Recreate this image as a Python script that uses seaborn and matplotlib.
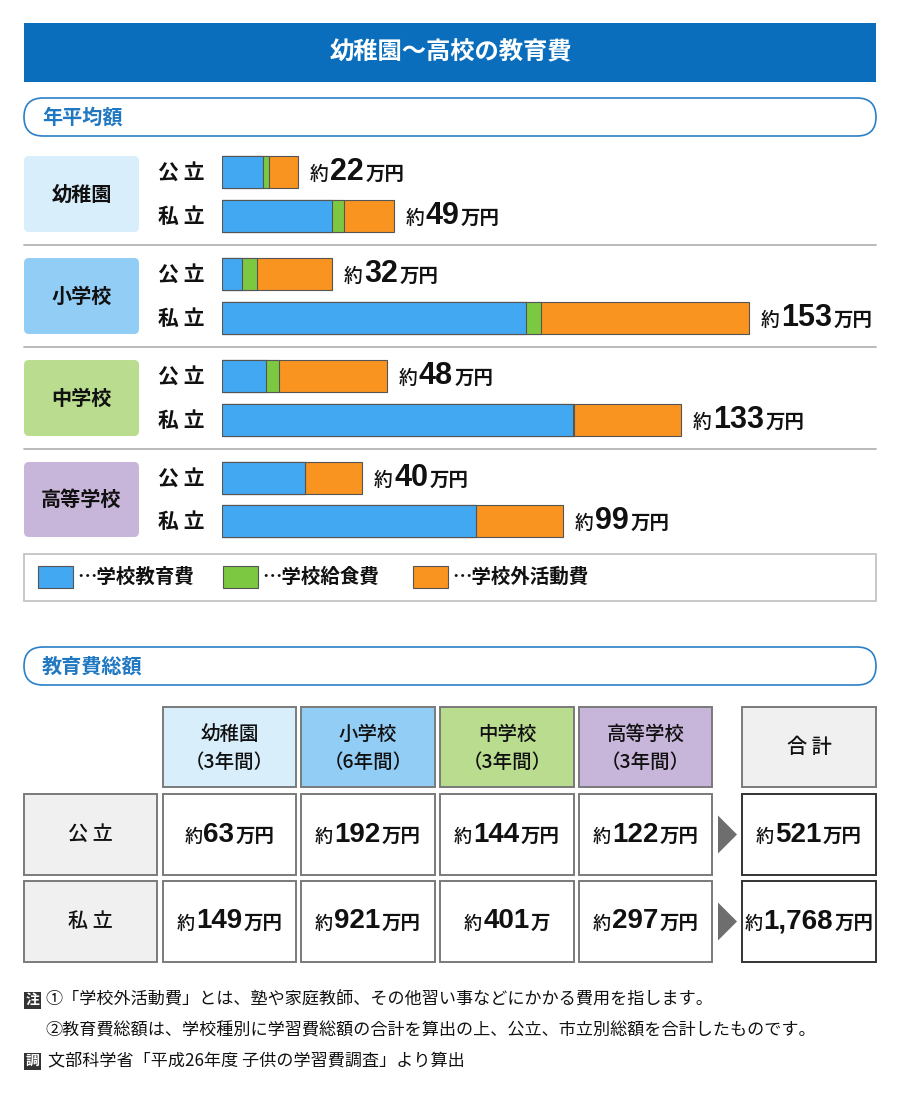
import pandas as pd
import seaborn as sns
import matplotlib.pyplot as plt
from matplotlib.patches import Rectangle, FancyBboxPatch, Polygon
from matplotlib.offsetbox import TextArea, HPacker, AnnotationBbox

W, H = 900, 1106

# ---- data ----
schools = ["幼稚園", "小学校", "中学校", "高等学校"]
types = ["公立", "私立"]
type_labels = ["公 立", "私 立"]
# 年平均額 (万円), rows: 幼公, 幼私, 小公, 小私, 中公, 中私, 高公, 高私
tuition = [11.9, 32.0, 5.9, 88.6, 12.9, 102.2, 24.3, 74.0]
lunch = [1.9, 3.7, 4.3, 4.5, 3.8, 0.3, 0.0, 0.0]
outside = [8.4, 14.3, 21.9, 60.6, 31.4, 31.3, 16.6, 25.5]
annual_labels = ["22", "49", "32", "153", "48", "133", "40", "99"]
legend_labels = ["…学校教育費", "…学校給食費", "…学校外活動費"]

# 教育費総額
table_headers = ["幼稚園\n（3年間）", "小学校\n（6年間）", "中学校\n（3年間）", "高等学校\n（3年間）"]
public_totals = ["63", "192", "144", "122", "521"]
private_totals = ["149", "921", "401", "297", "1,768"]
public_units = ["万円", "万円", "万円", "万円", "万円"]
private_units = ["万円", "万円", "万", "万円", "万円"]

notes = ["①「学校外活動費」とは、塾や家庭教師、その他習い事などにかかる費用を指します。",
         "②教育費総額は、学校種別に学習費総額の合計を算出の上、公立、市立別総額を合計したものです。"]
source = "文部科学省「平成26年度 子供の学習費調査」より算出"

# ---- style ----
sns.set_style("white")
plt.rcParams['font.family'] = ['Noto Sans CJK JP', 'DejaVu Sans']
NUM_FONT = ['Liberation Sans', 'DejaVu Sans']

BLUE, GREEN, ORANGE = "#42a8f2", "#7cc840", "#fa9420"
EDGE = "#555555"
TITLE_BLUE = "#0a6ebd"
HEAD_BLUE = "#1f78c1"
GROUP_COLORS = ["#d9eefb", "#92cdf5", "#b9dc8f", "#c8b5da"]
INK = "#111111"

df = pd.DataFrame({
    "school": [s for s in schools for _ in types],
    "type": types * len(schools),
    "tuition": tuition,
    "lunch": lunch,
    "outside": outside,
})
df["end_blue"] = df["tuition"]
df["end_green"] = df["tuition"] + df["lunch"]
df["end_orange"] = df["end_green"] + df["outside"]

fig = plt.figure(figsize=(W / 100, H / 100), dpi=100)
bg = fig.add_axes([0, 0, 1, 1])
bg.set_xlim(0, W)
bg.set_ylim(H, 0)
bg.axis("off")


def frac(x0, y0, x1, y1):
    return [x0 / W, 1 - y1 / H, (x1 - x0) / W, (y1 - y0) / H]


def money(ax, xy, number, unit, sizes, align, offset=(0, 0)):
    # "約" + big number + unit, packed on one baseline
    s_pre, s_num, s_unit = sizes
    kids = [TextArea("約", textprops=dict(fontsize=s_pre, fontweight="medium", color=INK)),
            TextArea(number, textprops=dict(fontsize=s_num, fontweight="bold", color=INK,
                                            family=NUM_FONT)),
            TextArea(unit, textprops=dict(fontsize=s_unit, fontweight="bold", color=INK))]
    pack = HPacker(children=kids, align="baseline", pad=0, sep=1)
    ab = AnnotationBbox(pack, xy, xybox=offset, xycoords="data", boxcoords="offset points",
                        box_alignment=align, frameon=False, annotation_clip=False)
    ax.add_artist(ab)


def pill(y0, y1, text):
    r = (y1 - y0) / 2
    bg.add_patch(FancyBboxPatch((24, y0), 852, y1 - y0, boxstyle=f"round,pad=0,rounding_size={r}",
                                fc="white", ec="#2a80c8", lw=1.2))
    bg.text(42, (y0 + y1) / 2, text, color=HEAD_BLUE, fontsize=14.5, fontweight="bold", va="center")


# title banner
bg.add_patch(Rectangle((24, 23), 852, 59, fc=TITLE_BLUE, ec="none"))
bg.text(451, 52, "幼稚園〜高校の教育費", color="white", fontsize=17.5, fontweight="bold",
        ha="center", va="center")

pill(98, 136, "年平均額")

# ---- stacked bars ----
centers = [(172, 216), (274, 318), (376, 420), (478, 521)]
px_per_unit = 3.43
bar_px = 32
for g, school in enumerate(schools):
    c0, c1 = centers[g]
    step = c1 - c0
    ax = fig.add_axes(frac(222, c0 - step / 2, 876, c1 + step / 2))
    sub = df[df["school"] == school]
    for col, colr in [("end_orange", ORANGE), ("end_green", GREEN), ("end_blue", BLUE)]:
        sns.barplot(data=sub, x=col, y="type", order=types, color=colr, orient="h",
                    width=bar_px / step, edgecolor=EDGE, linewidth=0.8, errorbar=None,
                    saturation=1, ax=ax)
    ax.set_xlim(0, 654 / px_per_unit)
    ax.set_ylim(1.5, -0.5)
    ax.axis("off")
    ax.patch.set_alpha(0)
    for i, t in enumerate(types):
        k = g * 2 + i
        money(ax, (df["end_orange"].iloc[k], i), annual_labels[k], "万円",
              (13.5, 22, 14), align=(0, 0.5), offset=(8.5, 0))
        bg.text(181, [c0, c1][i], type_labels[i], fontsize=15, fontweight="bold",
                ha="center", va="center", color=INK)
    # group label box
    bg.add_patch(FancyBboxPatch((24, c0 - 16), 115, c1 - c0 + 32,
                                boxstyle="round,pad=0,rounding_size=5",
                                fc=GROUP_COLORS[g], ec="none"))
    bg.text(81.5, (c0 + c1) / 2, school, fontsize=14.5, fontweight="bold",
            ha="center", va="center", color=INK)
    if g < len(schools) - 1:
        ysep = (c1 + centers[g + 1][0]) / 2
        bg.plot([24, 876], [ysep, ysep], color="#b4b4b4", lw=1.3)

# legend
bg.add_patch(Rectangle((24, 554), 852, 47, fc="white", ec="#c4c4c4", lw=1.3))
for x, colr, lab in zip([38, 223, 413], [BLUE, GREEN, ORANGE], legend_labels):
    bg.add_patch(Rectangle((x, 566), 35, 22, fc=colr, ec=EDGE, lw=0.8))
    bg.text(x + 39, 577, lab, fontsize=14, fontweight="bold", va="center", color=INK)

pill(647, 685, "教育費総額")

# ---- table ----
col_x = [(163, 296), (301, 435), (440, 574), (579, 712), (742, 876)]
row_y = [(794, 875), (881, 962)]
CELL_EDGE = "#7a7a7a"
for j, lab in enumerate(table_headers):
    x0, x1 = col_x[j]
    bg.add_patch(Rectangle((x0, 707), x1 - x0, 80, fc=GROUP_COLORS[j], ec=CELL_EDGE, lw=1.4))
    bg.text((x0 + x1) / 2, 748, lab, fontsize=14, fontweight="medium", ha="center",
            va="center", linespacing=1.6, color=INK)
x0, x1 = col_x[4]
bg.add_patch(Rectangle((x0, 707), x1 - x0, 80, fc="#f0f0f0", ec=CELL_EDGE, lw=1.4))
bg.text((x0 + x1) / 2, 747, "合 計", fontsize=14.5, fontweight="medium", ha="center",
        va="center", color=INK)

for r, (vals, units) in enumerate([(public_totals, public_units), (private_totals, private_units)]):
    y0, y1 = row_y[r]
    yc = (y0 + y1) / 2
    bg.add_patch(Rectangle((24, y0), 133, y1 - y0, fc="#f0f0f0", ec=CELL_EDGE, lw=1.4))
    bg.text(90.5, yc, type_labels[r], fontsize=14.5, fontweight="medium", ha="center",
            va="center", color=INK)
    for j in range(5):
        x0, x1 = col_x[j]
        ec = "#333333" if j == 4 else CELL_EDGE
        bg.add_patch(Rectangle((x0, y0), x1 - x0, y1 - y0, fc="white", ec=ec, lw=1.4))
        money(bg, ((x0 + x1) / 2, yc), vals[j], units[j], (13, 20, 14),
              align=(0.5, 0.5))
    bg.add_patch(Polygon([(718, yc - 19), (718, yc + 19), (737, yc)], closed=True,
                         fc="#6e6e6e", ec="none"))

# ---- notes ----
for y, badge in [(1000, "注"), (1061, "調")]:
    bg.add_patch(Rectangle((24, y - 8.5), 17, 17, fc="#333333", ec="none"))
    bg.text(32.5, y, badge, color="white", fontsize=10, fontweight="bold", ha="center",
            va="center")
bg.text(45, 1000, notes[0], fontsize=12.3, va="center", color=INK)
bg.text(45, 1031, notes[1], fontsize=12.3, va="center", color=INK)
bg.text(48, 1061, source, fontsize=12.3, va="center", color=INK)

fig.savefig("out.png", dpi=100)
